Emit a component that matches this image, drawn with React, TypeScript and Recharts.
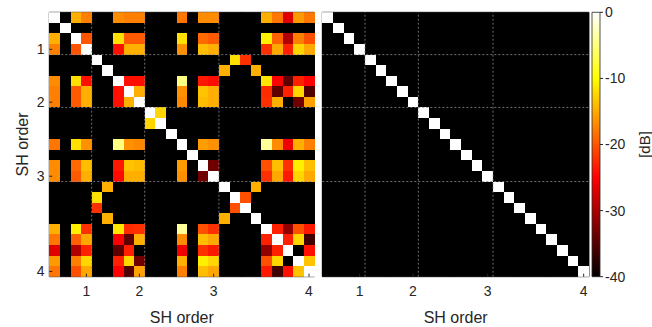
import React from 'react';
import { BarChart, Bar, Cell, XAxis, YAxis, ReferenceLine, ReferenceArea } from 'recharts';

// ---------- data ----------
const B = -40; // below colour range (no coupling)

const shOrderLabels = ['1', '2', '3', '4'];
// number of SH coefficients up to and including each order: (n+1)^2
const shOrderCoeffCount = [4, 9, 16, 25];
const colorbarTicksDb = [0, -10, -20, -30, -40];
const dbRange: [number, number] = [-40, 0];

// left panel: 25 x 25 coupling matrix in dB (rows = output ACN, cols = input ACN)
const row00 = [0, B, -14.7, -17.5, B, B, -16.8, -17.5, -17.5, B, B, B, -18, B, -16.8, -16.8, B, B, B, B, -14.7, -18, -26.8, -16, -18];
const row01 = [B, 0, B, B, B, B, B, B, B, B, B, B, B, B, B, B, B, B, B, B, B, B, B, B, B];
const row02 = [-14.7, B, 0, -20, B, B, -11.8, -19.7, -19.7, B, B, B, -11.8, B, -18.8, -19.7, B, B, B, B, -10.9, -19.3, -29.6, -17.5, -20.3];
const row03 = [-17.5, B, -20, 0, B, B, -24.1, -14.7, -14.7, B, B, B, -16.5, B, -13.8, -14.7, B, B, B, B, -22.2, -15.1, -23.1, -12.4, -15.1];
const row04 = [B, B, B, B, 0, B, B, B, B, B, B, B, B, B, B, B, B, -11.8, -22.2, B, B, B, B, B, B];
const row05 = [B, B, B, B, B, 0, B, B, B, B, B, B, B, B, B, B, -14.7, B, B, -14.7, B, B, B, B, B];
const row06 = [-16.8, B, -11.8, -24.1, B, B, 0, -24.1, -24.1, B, B, B, -5, B, -23.6, -24.5, B, B, B, B, -11.5, -25, -34.4, -23.1, -25];
const row07 = [-17.5, B, -19.7, -14.7, B, B, -24.1, 0, -14.7, B, B, B, -16.5, B, -13.5, -14.7, B, B, B, B, -22.5, -34.4, -23.1, -12.4, -35.3];
const row08 = [-17.5, B, -19.7, -14.7, B, B, -24.1, -14.7, 0, B, B, B, -17, B, -14, -14.7, B, B, B, B, -22.2, -14.7, B, -33.4, -15.5];
const row09 = [B, B, B, B, B, B, B, B, B, 0, -12.4, B, B, B, B, B, B, B, B, B, B, B, B, B, B];
const row10 = [B, B, B, B, B, B, B, B, B, -12.4, 0, B, B, B, B, B, B, B, B, B, B, B, B, B, B];
const row11 = [B, B, B, B, B, B, B, B, B, B, B, 0, B, B, B, B, B, B, B, B, B, B, B, B, B];
const row12 = [-18, B, -11.8, -16.5, B, B, -5, -16.5, -17, B, B, B, 0, B, -15.8, -16.5, B, B, B, B, -4, -16.8, -25.9, -14.7, -17.5];
const row13 = [B, B, B, B, B, B, B, B, B, B, B, B, B, 0, B, B, B, B, B, B, B, B, B, B, B];
const row14 = [-16.8, B, -18.8, -13.8, B, B, -23.6, -13.5, -14, B, B, B, -15.8, B, 0, -33.4, B, B, B, B, -20.3, -13.8, -22.2, -10.9, -13.8];
const row15 = [-16.8, B, -19.7, -14.7, B, B, -24.5, -14.7, -14.7, B, B, B, -16.5, B, -33.4, 0, B, B, B, B, -22.2, -15.1, -23.6, -12.4, -15.1];
const row16 = [B, B, B, B, B, -14.7, B, B, B, B, B, B, B, B, B, B, 0, B, B, -14.7, B, B, B, B, B];
const row17 = [B, B, B, B, -11.8, B, B, B, B, B, B, B, B, B, B, B, B, 0, -20.3, B, B, B, B, B, B];
const row18 = [B, B, B, B, -22.2, B, B, B, B, B, B, B, B, B, B, B, B, -20.3, 0, B, B, B, B, B, B];
const row19 = [B, B, B, B, B, -14.7, B, B, B, B, B, B, B, B, B, B, -14.7, B, B, 0, B, B, B, B, B];
const row20 = [-14.7, B, -10.9, -22.2, B, B, -11.5, -22.5, -22.2, B, B, B, -4, B, -20.3, -22.2, B, B, B, B, 0, -23.1, -31.5, -20.3, -23.6];
const row21 = [-18, B, -19.3, -15.1, B, B, -25, -34.4, -14.7, B, B, B, -16.8, B, -13.8, -15.1, B, B, B, B, -23.1, 0, -23.1, -12.4, -36.2];
const row22 = [-26.8, B, -29.6, -23.1, B, B, -34.4, -23.1, B, B, B, B, -25.9, B, -22.2, -23.6, B, B, B, B, -31.5, -23.1, 0, B, -24.1];
const row23 = [-16, B, -17.5, -12.4, B, B, -23.1, -12.4, -33.4, B, B, B, -14.7, B, -10.9, -12.4, B, B, B, B, -20.3, -12.4, B, 0, -13.5];
const row24 = [-18, B, -20.3, -15.1, B, B, -25, -35.3, -15.5, B, B, B, -17.5, B, -13.8, -15.1, B, B, B, B, -23.6, -36.2, -24.1, -13.5, 0];

const leftMatrixDb = [
  row00, row01, row02, row03, row04, row05, row06, row07, row08, row09, row10, row11, row12,
  row13, row14, row15, row16, row17, row18, row19, row20, row21, row22, row23, row24,
];

// right panel: only the diagonal is non-zero
const rightDiagonalDb = [0, 0, 0, 0, 0, 0, 0, 0, 0, 0, 0, 0, 0, 0, 0, 0, 0, 0, 0, 0, 0, 0, 0, 0, 0];
const rightOffDiagonalDb = B;

// ---------- helpers ----------
const FONT = '"Liberation Sans", Arial, Helvetica, sans-serif';
const TXT = '#262626';
const GRID = '#8c8c8c';

function hot(db: number): string {
  const t = Math.max(0, Math.min(1, (db - dbRange[0]) / (dbRange[1] - dbRange[0])));
  let r = 0, g = 0, b = 0;
  if (t < 3 / 8) { r = t / (3 / 8); }
  else if (t < 6 / 8) { r = 1; g = (t - 3 / 8) / (3 / 8); }
  else { r = 1; g = 1; b = (t - 6 / 8) / (2 / 8); }
  return `rgb(${Math.round(r * 255)},${Math.round(g * 255)},${Math.round(b * 255)})`;
}

const rightMatrixDb = rightDiagonalDb.map((d, r) =>
  rightDiagonalDb.map((_, c) => (r === c ? d : rightOffDiagonalDb))
);

// x (category) axis: index of last coefficient of each order
const xTickCats = shOrderCoeffCount.map((k) => k - 1);
// y (numeric, unit rows) axis: centre of that row
const yTickPos = shOrderCoeffCount.map((k) => k - 0.5);
const gridAt = shOrderCoeffCount.slice(0, -1);

const fmtX = (v: number) => {
  const i = xTickCats.indexOf(Number(v));
  return i >= 0 ? shOrderLabels[i] : '';
};
const fmtY = (v: number) => {
  const i = yTickPos.indexOf(Number(v));
  return i >= 0 ? shOrderLabels[i] : '';
};

type HeatProps = {
  matrix: number[][];
  width: number;
  height: number;
  margin: { top: number; right: number; bottom: number; left: number };
  showYLabels: boolean;
};

function Heatmap({ matrix, width, height, margin, showYLabels }: HeatProps) {
  const n = matrix.length;
  const data = matrix[0].map((_, c) => {
    const o: Record<string, number> = { col: c };
    matrix.forEach((__, r) => { o['r' + r] = 1; });
    return o;
  });
  return (
    <BarChart width={width} height={height} data={data} margin={margin} barCategoryGap={0} barGap={0}>
      <XAxis
        xAxisId="cat"
        dataKey="col"
        type="category"
        ticks={xTickCats}
        interval={0}
        tickFormatter={fmtX}
        height={30}
        axisLine={false}
        tickSize={-3}
        tickMargin={12.8}
        tickLine={{ stroke: TXT }}
        tick={{ fill: TXT, fontSize: 14, fontFamily: FONT }}
        label={{ value: 'SH order', position: 'bottom', offset: 4.5, fill: TXT, fontSize: 16, fontFamily: FONT }}
      />
      <YAxis
        yAxisId="y"
        type="number"
        domain={[0, n]}
        allowDataOverflow
        reversed
        ticks={yTickPos}
        interval={0}
        tickFormatter={showYLabels ? fmtY : () => ''}
        width={showYLabels ? 40 : 0}
        axisLine={false}
        tickSize={-3}
        tickMargin={7.8}
        tickLine={{ stroke: TXT }}
        tick={{ fill: TXT, fontSize: 14, fontFamily: FONT }}
        label={
          showYLabels
            ? { value: 'SH order', angle: -90, position: 'insideLeft', offset: 12.7, textAnchor: 'middle', fill: TXT, fontSize: 16, fontFamily: FONT }
            : undefined
        }
      />
      {matrix.map((rowVals, r) => (
        <Bar key={r} dataKey={'r' + r} stackId="s" xAxisId="cat" yAxisId="y" isAnimationActive={false}>
          {rowVals.map((v, c) => (
            <Cell key={c} fill={hot(v)} shapeRendering="crispEdges" />
          ))}
        </Bar>
      ))}
      {gridAt.map((g) => (
        <ReferenceLine key={'gx' + g} x={g} position="start" xAxisId="cat" yAxisId="y" stroke={GRID} strokeWidth={0.8} strokeDasharray="2 2" />
      ))}
      {gridAt.map((g) => (
        <ReferenceLine key={'gy' + g} y={g} xAxisId="cat" yAxisId="y" stroke={GRID} strokeWidth={0.8} strokeDasharray="2 2" />
      ))}
      <ReferenceArea x1={0} x2={n - 1} y1={0} y2={n} xAxisId="cat" yAxisId="y" fill="none" fillOpacity={0} stroke={TXT} strokeWidth={1} ifOverflow="visible" />
    </BarChart>
  );
}

function Colorbar() {
  const data = [{ name: 'cb', range: dbRange }];
  return (
    <BarChart width={92} height={327} data={data} margin={{ top: 12.3, right: 0, bottom: 50.3, left: 32 }} barCategoryGap={0}>
      <defs>
        <linearGradient id="hotGrad" x1="0" y1="0" x2="0" y2="1">
          <stop offset="0" stopColor={hot(0)} />
          <stop offset="0.25" stopColor={hot(-10)} />
          <stop offset="0.625" stopColor={hot(-25)} />
          <stop offset="1" stopColor={hot(-40)} />
        </linearGradient>
      </defs>
      <XAxis dataKey="name" type="category" height={0} hide />
      <YAxis
        orientation="right"
        type="number"
        domain={dbRange}
        ticks={colorbarTicksDb}
        interval={0}
        width={52}
        axisLine={false}
        tickSize={3}
        tickMargin={2}
        tickLine={{ stroke: TXT }}
        tick={{ fill: TXT, fontSize: 14, fontFamily: FONT }}
        label={{ value: '[dB]', angle: -90, position: 'insideRight', offset: 7, textAnchor: 'middle', fill: TXT, fontSize: 15, fontFamily: FONT }}
      />
      <Bar dataKey="range" fill="url(#hotGrad)" stroke={TXT} strokeWidth={0.8} isAnimationActive={false} />
    </BarChart>
  );
}

export default function App() {
  return (
    <div style={{ position: 'fixed', left: 0, top: 0, width: 652, height: 327, background: '#fff', overflow: 'hidden' }}>
      <div style={{ position: 'absolute', left: 0, top: 0 }}>
        <Heatmap
          matrix={leftMatrixDb}
          width={320}
          height={327}
          margin={{ top: 12.3, right: 5.7, bottom: 20.3, left: 9.3 }}
          showYLabels
        />
      </div>
      <div style={{ position: 'absolute', left: 314, top: 0 }}>
        <Heatmap
          matrix={rightMatrixDb}
          width={280}
          height={327}
          margin={{ top: 12.3, right: 5, bottom: 20.3, left: 8.3 }}
          showYLabels={false}
        />
      </div>
      <div style={{ position: 'absolute', left: 560, top: 0 }}>
        <Colorbar />
      </div>
    </div>
  );
}
